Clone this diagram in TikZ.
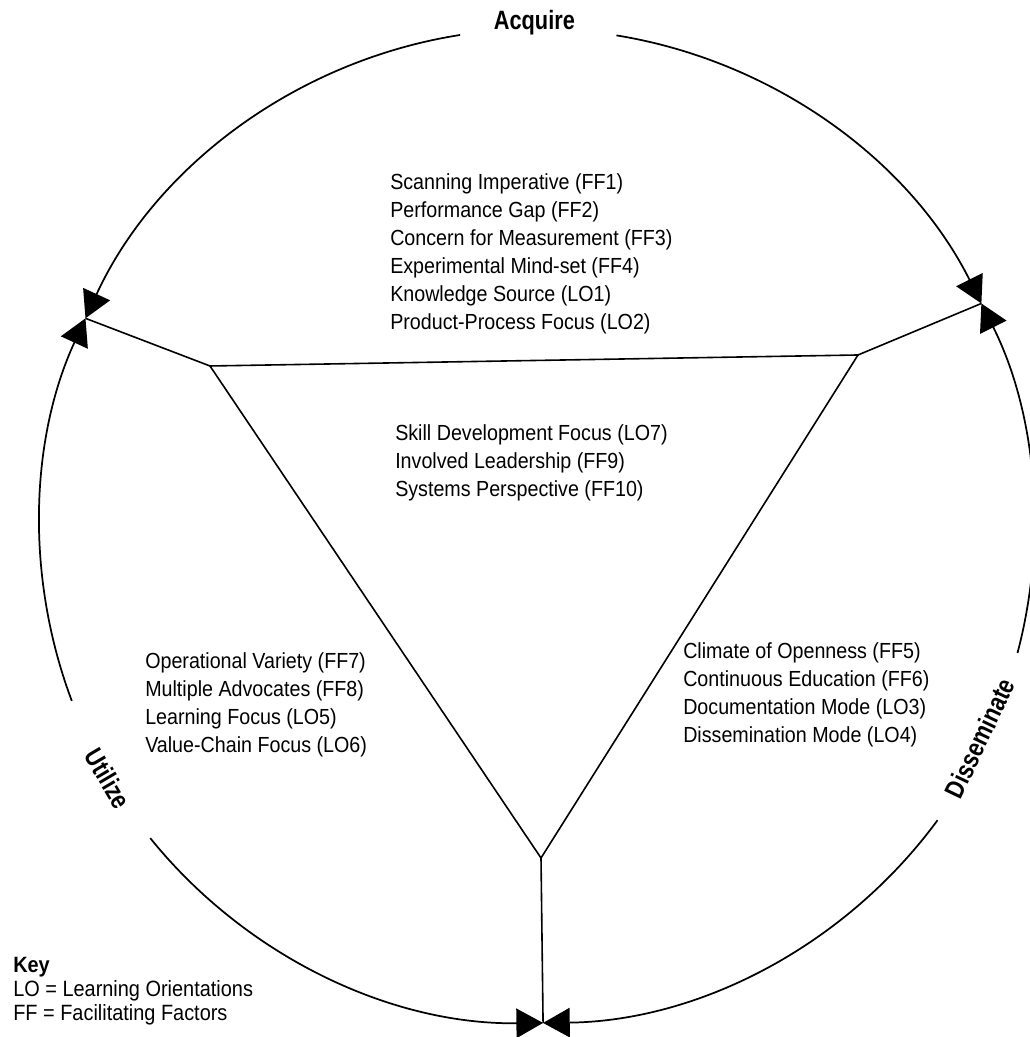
\documentclass[tikz,border=0pt]{standalone}
\usepackage{fontspec}
\setmainfont{Liberation Sans}[FakeStretch=0.9]
\newfontfamily\labelfont{Liberation Sans}[FakeStretch=0.82]
\usetikzlibrary{arrows.meta}
\begin{document}
\begin{tikzpicture}[x=0.75pt,y=0.75pt,
  rim/.style={line width=1.3pt},
  tipend/.style={rim,-{Triangle[length=20pt,width=22pt]}},
  tipstart/.style={rim,{Triangle[length=20pt,width=22pt]}-},
  frame/.style={line width=1.2pt,line join=miter},
  factors/.style={anchor=north west,inner sep=0pt,align=left,
    font=\fontsize{16.4}{21}\selectfont},
  keytext/.style={anchor=north west,inner sep=0pt,align=left,
    font=\fontsize{16.6}{18}\selectfont},
  phase/.style={inner sep=0pt,font=\labelfont\bfseries\fontsize{19.9}{24}\selectfont}]
\useasboundingbox (0,0) rectangle (1029,1037);

% centre of the cycle and its radius (in drawing units)
\coordinate (C) at (537,511);
\def\rad{497}
\def\radpt{372.75pt}

% junctions where the spokes meet the cycle
\coordinate (L) at ([shift={(C)}]155.3:\rad);
\coordinate (R) at ([shift={(C)}]26.6:\rad);
\coordinate (B) at ([shift={(C)}]270.7:\rad);

% corners of the inner triangle
\coordinate (TL) at (210,671);
\coordinate (TR) at (858,682);
\coordinate (TB) at (541,179);

% cycle arcs, broken for the phase labels, with heads meeting at the junctions
\draw[tipend]   ([shift={(C)}]98.9:\rad)   arc[start angle=98.9,  end angle=155.3, radius=\radpt];
\draw[tipend]   ([shift={(C)}]80.8:\rad)   arc[start angle=80.8,  end angle=26.6,  radius=\radpt];
\draw[tipstart] ([shift={(C)}]26.6:\rad)   arc[start angle=26.6,  end angle=-14.8, radius=\radpt];
\draw[tipend]   ([shift={(C)}]-36.3:\rad)  arc[start angle=-36.3, end angle=-89.3, radius=\radpt];
\draw[tipstart] ([shift={(C)}]270.7:\rad)  arc[start angle=270.7, end angle=218.9, radius=\radpt];
\draw[tipend]   ([shift={(C)}]200.6:\rad)  arc[start angle=200.6, end angle=155.3, radius=\radpt];

% inner triangle and spokes
\draw[frame] (TL) -- (TR) -- (TB) -- cycle;
\draw[frame] (L) -- (TL);
\draw[frame] (R) -- (TR);
\draw[frame] (B) -- (TB);

% phase labels on the cycle
\node[phase] (acquire) at ([shift={(C)}]90.3:503) {Acquire};
\node[phase,rotate=64.4] (disseminate) at ([shift={(C)}]-25.6:491) {Disseminate};
\node[phase,rotate=-59.5] (utilize) at ([shift={(C)}]210.5:498) {Utilize};

% factor lists
\node[factors] (acq) at (390,864) {Scanning Imperative (FF1)\\Performance Gap (FF2)\\Concern for Measurement (FF3)\\Experimental Mind-set (FF4)\\Knowledge Source (LO1)\\Product-Process Focus (LO2)};
\node[factors] (core) at (395,613) {Skill Development Focus (LO7)\\Involved Leadership (FF9)\\Systems Perspective (FF10)};
\node[factors] (use) at (145,385) {Operational Variety (FF7)\\Multiple Advocates (FF8)\\Learning Focus (LO5)\\Value-Chain Focus (LO6)};
\node[factors] (dis) at (683,395) {Climate of Openness (FF5)\\Continuous Education (FF6)\\Documentation Mode (LO3)\\Dissemination Mode (LO4)};

% key
\node[keytext] (key) at (13,80) {\textbf{Key}\\LO = Learning Orientations\\FF = Facilitating Factors};
\end{tikzpicture}
\end{document}
